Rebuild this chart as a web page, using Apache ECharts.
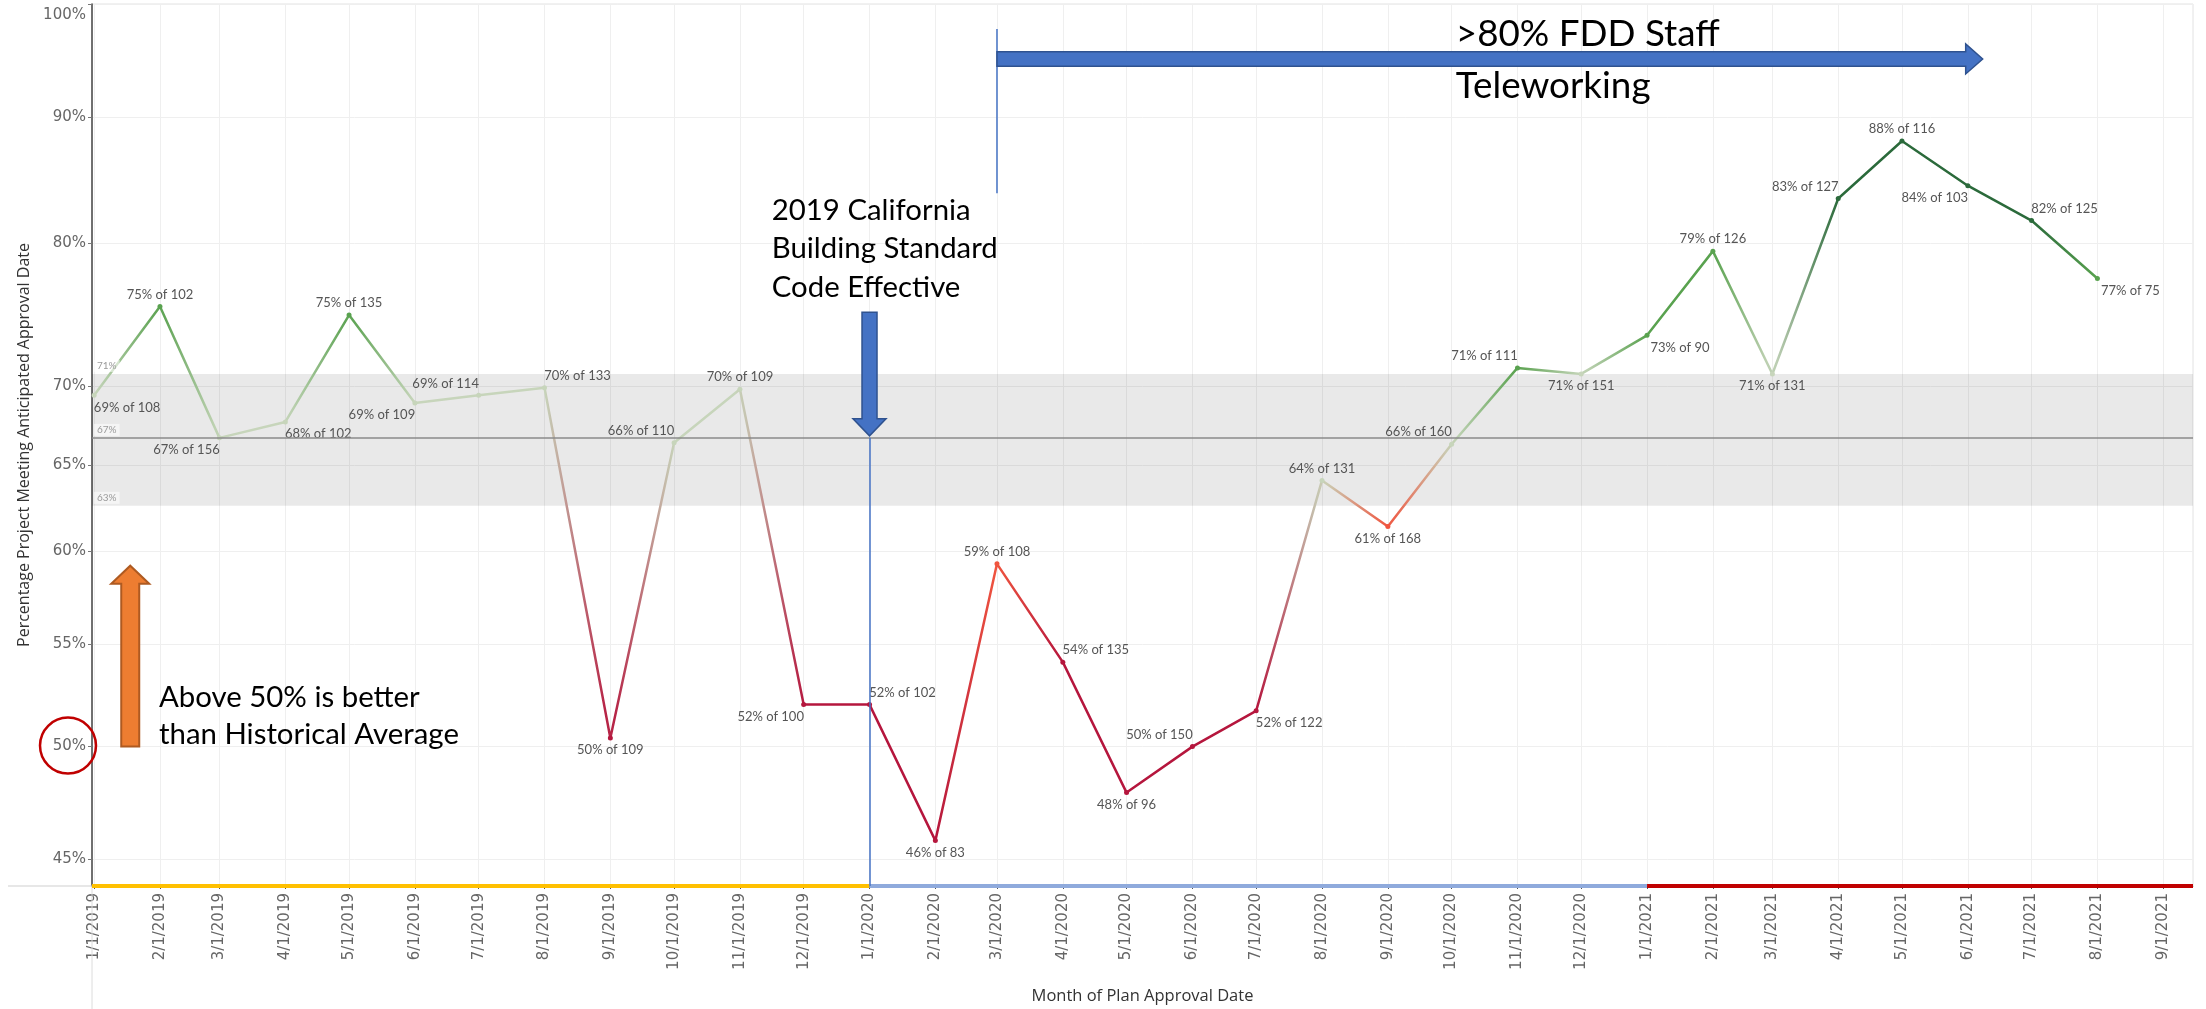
<!DOCTYPE html>
<html>
<head>
<meta charset="utf-8">
<script src="https://cdn.jsdelivr.net/npm/echarts@6/dist/echarts.min.js"></script>
<style>
  html, body { margin: 0; padding: 0; background: #fff; }
  #chart { width: 2206px; height: 1009px; }
</style>
</head>
<body>
<div id="chart"></div>
<script>
// Share of plan approvals that met the anticipated approval date, by month.
const months = ['2019-01-01','2019-02-01','2019-03-01','2019-04-01','2019-05-01','2019-06-01',
  '2019-07-01','2019-08-01','2019-09-01','2019-10-01','2019-11-01','2019-12-01',
  '2020-01-01','2020-02-01','2020-03-01','2020-04-01','2020-05-01','2020-06-01',
  '2020-07-01','2020-08-01','2020-09-01','2020-10-01','2020-11-01','2020-12-01',
  '2021-01-01','2021-02-01','2021-03-01','2021-04-01','2021-05-01','2021-06-01',
  '2021-07-01','2021-08-01'];
const pctMet = [69.4, 75.4, 66.7, 67.7, 74.8, 68.9, 69.4, 69.9, 50.4, 66.4, 69.8, 52.0,
  52.0, 45.8, 59.3, 54.1, 47.9, 50.0, 51.7, 64.1, 61.4, 66.3, 71.2, 70.8,
  73.4, 79.4, 70.8, 83.4, 88.0, 84.4, 81.7, 77.4];
const planCount = [108, 102, 156, 102, 135, 109, 114, 133, 109, 110, 109, 100,
  102, 83, 108, 135, 96, 150, 122, 131, 168, 160, 111, 151,
  90, 126, 131, 127, 116, 103, 125, 75];

// Axis ticks
const tickMonths = ['2019-01-01','2019-02-01','2019-03-01','2019-04-01','2019-05-01','2019-06-01',
  '2019-07-01','2019-08-01','2019-09-01','2019-10-01','2019-11-01','2019-12-01',
  '2020-01-01','2020-02-01','2020-03-01','2020-04-01','2020-05-01','2020-06-01',
  '2020-07-01','2020-08-01','2020-09-01','2020-10-01','2020-11-01','2020-12-01',
  '2021-01-01','2021-02-01','2021-03-01','2021-04-01','2021-05-01','2021-06-01',
  '2021-07-01','2021-08-01','2021-09-01'];
const yTicks = [45, 50, 55, 60, 65, 70, 80, 90, 100];

// Historical average with its band
const histLow = 62.6;
const histAvg = 66.7;
const histHigh = 70.8;

// Periods marked along the date axis
const periodStarts = ['2018-12-31', '2020-01-01', '2021-01-01'];
const periodEnds = ['2020-01-01', '2021-01-01', '2021-09-15'];

// ---------- layout / style ----------
const X_MIN = '2018-12-31', X_MAX = '2021-09-15';
const Y_MIN = 43.9, Y_MAX = 100;
const periodColors = ['#ffc000', '#8faadc', '#c00000'];
const labelSide = ['br','t','bl','br','t','bl','tl','tr','b','tl','t','bl',
  'tr','b','t','tr','b','tl','br','t','b','tl','tl','b',
  'br','t','b','tl','t','bl','tr','br'];
const SIDE_DX = 33;

// stepped colour scale for a month's share (upper bounds of each step)
const colorBreaks = [58.5, 62.6, 71.0, 80.0];
const colorSteps = ['#b5163d', '#f0553f', '#c7d5bb', '#59a24f', '#2b6a3b'];

// dates are carried as millisecond timestamps on a numeric axis
const DAY = 86400000;
function ts(s) { const p = s.split('-').map(Number); return Date.UTC(p[0], p[1] - 1, p[2]); }
function mdy(v) { const d = new Date(v); return (d.getUTCMonth() + 1) + '/' + d.getUTCDate() + '/' + d.getUTCFullYear(); }

function colorFor(v) {
  let i = 0;
  while (i < colorBreaks.length && v >= colorBreaks[i]) i++;
  return colorSteps[i];
}
function hexRgb(h) { return [1, 3, 5].map(k => parseInt(h.substr(k, 2), 16)); }
function mix(a, b, t) {
  const A = hexRgb(a), B = hexRgb(b);
  return 'rgb(' + A.map((c, k) => Math.round(c + (B[k] - c) * t)).join(',') + ')';
}

// each segment blends from one month's colour to the next, sampled per day
const pointColors = pctMet.map(colorFor);
const tFirst = ts(months[0]), tLast = ts(months[months.length - 1]);
const lineStops = [];
for (let t = tFirst, seg = 0; t <= tLast; t += DAY) {
  while (seg < months.length - 2 && t > ts(months[seg + 1])) seg++;
  const a = ts(months[seg]), b = ts(months[seg + 1]);
  lineStops.push(mix(pointColors[seg], pointColors[seg + 1], (t - a) / (b - a)));
}

const measureCtx = document.createElement('canvas').getContext('2d');
function fitSize(text, family, width, weight) {
  measureCtx.font = (weight || 'normal') + ' 100px ' + family;
  return 100 * width / measureCtx.measureText(text).width;
}

const seriesData = months.map((m, i) => {
  const s = labelSide[i];
  const dx = s.indexOf('l') > 0 ? -SIDE_DX : (s.indexOf('r') > 0 ? SIDE_DX : 0);
  return {
    value: [ts(m), pctMet[i]],
    label: { position: s[0] === 't' ? 'top' : 'bottom', offset: [dx, 0] }
  };
});

const periodSeries = periodStarts.map((s, i) => ({
  type: 'line',
  data: [[ts(s), Y_MIN], [ts(periodEnds[i]), Y_MIN]],
  symbol: 'none',
  silent: true,
  clip: false,
  z: 1,
  lineStyle: { color: periodColors[i], width: 4 }
}));

const chart = echarts.init(document.getElementById('chart'), null, { renderer: 'canvas' });

const option = {
  animation: false,
  backgroundColor: '#ffffff',
  grid: { left: 92, right: 13, top: 4, bottom: 123, outerBoundsMode: 'none', containLabel: false,
    show: true, borderColor: '#e2e2e2', borderWidth: 1 },
  visualMap: {
    type: 'continuous', show: false, seriesIndex: 0, dimension: 0,
    min: tFirst, max: tLast,
    inRange: { color: lineStops }
  },
  xAxis: {
    type: 'value',
    min: ts(X_MIN), max: ts(X_MAX),
    name: 'Month of Plan Approval Date',
    nameLocation: 'middle',
    nameGap: 102,
    nameTextStyle: { fontFamily: 'Open Sans', fontSize: fitSize('Month of Plan Approval Date', 'Open Sans', 222), color: '#333' },
    axisLine: { show: true, lineStyle: { color: '#9a9a9a', width: 1 } },
    axisTick: { show: true, length: 3, lineStyle: { color: '#555' }, customValues: tickMonths.map(ts) },
    axisLabel: {
      customValues: tickMonths.map(ts),
      rotate: 90, margin: 7,
      fontFamily: 'DejaVu Sans', fontSize: 15, color: '#666',
      formatter: v => mdy(v)
    },
    splitLine: { show: true, lineStyle: { color: '#efefef', width: 1 } }
  },
  yAxis: {
    type: 'log', logBase: 10,
    min: Y_MIN, max: Y_MAX,
    name: 'Percentage Project Meeting Anticipated Approval Date',
    nameLocation: 'middle',
    nameGap: 57,
    nameTextStyle: { fontFamily: 'Open Sans', fontSize: fitSize('Percentage Project Meeting Anticipated Approval Date', 'Open Sans', 404), color: '#333' },
    axisLine: { show: true, lineStyle: { color: '#444', width: 1.5 } },
    axisTick: { show: true, length: 4, lineStyle: { color: '#777' }, customValues: yTicks },
    axisLabel: {
      customValues: yTicks,
      margin: 6, fontFamily: 'DejaVu Sans', fontSize: 15, color: '#666', lineHeight: 23,
      formatter: v => (Math.round(v) === 100 ? '\n' : '') + Math.round(v) + '%'
    },
    splitLine: { show: true, lineStyle: { color: '#efefef', width: 1 } }
  },
  series: [
    {
      type: 'line',
      data: seriesData,
      symbol: 'circle',
      symbolSize: 5,
      lineStyle: { width: 2.5 },
      silent: true,
      z: 4,
      label: {
        show: true, distance: 3,
        fontFamily: 'Lato', fontSize: 13, color: '#555',
        formatter: p => Math.round(pctMet[p.dataIndex]) + '% of ' + planCount[p.dataIndex]
      },
      markArea: {
        silent: true,
        itemStyle: { color: 'rgba(0,0,0,0.085)' },
        data: [[{ yAxis: histLow }, { yAxis: histHigh }]]
      },
      markLine: {
        silent: true,
        symbol: 'none',
        label: {
          show: true, position: 'insideStartTop', distance: 2,
          fontFamily: 'Lato', fontSize: 10, color: '#9a9a9a',
          backgroundColor: 'rgba(255,255,255,0.55)', padding: [1, 3],
          formatter: p => Math.round(p.value) + '%'
        },
        data: [
          { yAxis: histHigh, lineStyle: { color: 'rgba(0,0,0,0)', width: 0 } },
          { yAxis: histAvg, lineStyle: { color: '#8a8a8a', width: 1.5, type: 'solid' } },
          { yAxis: histLow, lineStyle: { color: 'rgba(0,0,0,0)', width: 0 } },
          [
            { coord: [ts('2020-01-01'), histAvg], label: { show: false }, lineStyle: { color: '#4472c4', width: 1.5, type: 'solid' } },
            { coord: [ts('2020-01-01'), Y_MIN] }
          ]
        ]
      }
    }
  ].concat(periodSeries)
};

chart.setOption(option);

// ---------- annotations, anchored through the axes ----------
const P = (d, v) => chart.convertToPixel({ xAxisIndex: 0, yAxisIndex: 0 }, [typeof d === 'string' ? ts(d) : d, v]);

function arrowRight(x0, x1, yc, shaftHalf, headHalf, headLen) {
  return [[x0, yc - shaftHalf], [x1 - headLen, yc - shaftHalf], [x1 - headLen, yc - headHalf], [x1, yc],
    [x1 - headLen, yc + headHalf], [x1 - headLen, yc + shaftHalf], [x0, yc + shaftHalf]];
}
function arrowVertical(xc, yStart, yTip, shaftHalf, headHalf, headLen) {
  const dir = yTip > yStart ? 1 : -1;
  const yb = yTip - dir * headLen;
  return [[xc - shaftHalf, yStart], [xc - shaftHalf, yb], [xc - headHalf, yb], [xc, yTip],
    [xc + headHalf, yb], [xc + shaftHalf, yb], [xc + shaftHalf, yStart]];
}
function textEl(x, y, text, size) {
  return {
    type: 'text', x: x, y: y, z: 20, silent: true,
    style: { text: text, fill: '#000', fontFamily: 'Lato', fontSize: size,
      align: 'left', verticalAlign: 'middle', textAlign: 'left', textVerticalAlign: 'middle' }
  };
}

const origin = P(X_MIN, Y_MIN);
const els = [];

// pane edges extending past the axes
els.push({ type: 'line', silent: true, z: 1, shape: { x1: origin[0], y1: origin[1], x2: origin[0], y2: 1009 }, style: { stroke: '#dcdcdc', lineWidth: 1 } });
els.push({ type: 'line', silent: true, z: 1, shape: { x1: 8, y1: origin[1], x2: origin[0], y2: origin[1] }, style: { stroke: '#cfcfcf', lineWidth: 1 } });

// teleworking period
const tStart = P('2020-03-01', 95), tEnd = P('2021-06-08', 95);
els.push({ type: 'polygon', silent: true, z: 20, shape: { points: arrowRight(tStart[0], tEnd[0], tStart[1], 7.2, 15, 17) },
  style: { fill: '#4472c4', stroke: '#2f528f', lineWidth: 1.5 } });
const tTop = P('2020-03-01', 97.7), tBot = P('2020-03-01', 83.8);
els.push({ type: 'line', silent: true, z: 19, shape: { x1: tTop[0], y1: tTop[1], x2: tBot[0], y2: tBot[1] }, style: { stroke: '#4472c4', lineWidth: 1.5 } });
const teleSize = fitSize('>80% FDD Staff', 'Lato', 264);
const teleX = P('2020-10-03', 95)[0];
els.push(textEl(teleX, tStart[1] - 25, '>80% FDD Staff', teleSize));
els.push(textEl(teleX, tStart[1] + 27, 'Teleworking', teleSize));

// building code effective date
const cTop = P('2020-01-01', 75), cTip = P('2020-01-01', histAvg);
els.push({ type: 'polygon', silent: true, z: 20, shape: { points: arrowVertical(cTop[0], cTop[1], cTip[1] - 2, 7.5, 16.5, 17) },
  style: { fill: '#4472c4', stroke: '#2f528f', lineWidth: 1.5 } });
const codeSize = fitSize('Building Standard', 'Lato', 226);
const codeX = P('2019-11-16', 75)[0];
els.push(textEl(codeX, cTop[1] - 102, '2019 California', codeSize));
els.push(textEl(codeX, cTop[1] - 63.5, 'Building Standard', codeSize));
els.push(textEl(codeX, cTop[1] - 25, 'Code Effective', codeSize));

// better-than-average note
const oBot = P('2019-01-18', 50), oTip = P('2019-01-18', 59.2);
els.push({ type: 'polygon', silent: true, z: 20, shape: { points: arrowVertical(oBot[0], oBot[1], oTip[1], 9, 19, 18) },
  style: { fill: '#ed7d31', stroke: '#ae5a21', lineWidth: 2 } });
const noteSize = fitSize('than Historical Average', 'Lato', 300);
const noteX = P('2019-02-01', 50)[0] - 1;
els.push(textEl(noteX, oBot[1] - 48.6, 'Above 50% is better', noteSize));
els.push(textEl(noteX, oBot[1] - 11.6, 'than Historical Average', noteSize));
els.push({ type: 'circle', silent: true, z: 20, shape: { cx: origin[0] - 24, cy: oBot[1] - 1, r: 28 },
  style: { fill: 'none', stroke: '#c00000', lineWidth: 2.5 } });

chart.setOption({ graphic: { elements: els } });
</script>
</body>
</html>
